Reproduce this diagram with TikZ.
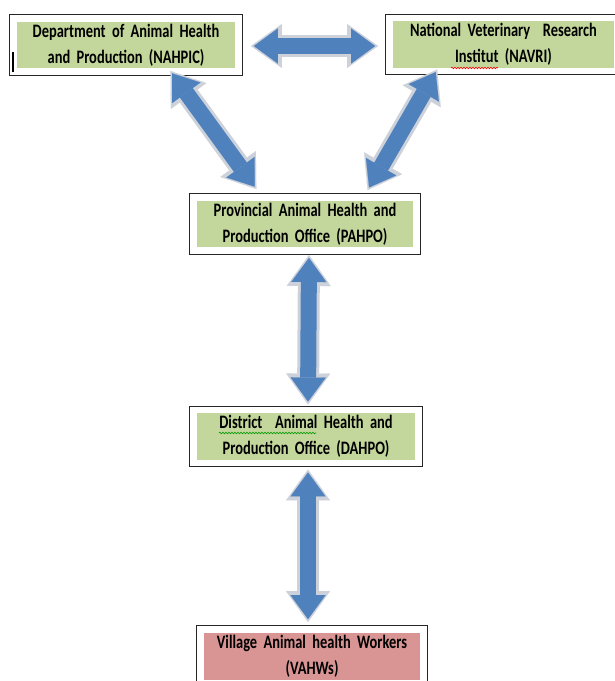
\documentclass[tikz,border=0pt]{standalone}
\usepackage{fontspec}
\setmainfont{Carlito}[FakeStretch=0.76]
\usepackage{tikz}
\usetikzlibrary{arrows.meta,calc,fit,decorations.pathmorphing}
\definecolor{ahgreen}{HTML}{C3D69B}
\definecolor{ahpink}{HTML}{D99594}
\definecolor{ahblue}{HTML}{4F81BD}
\definecolor{ahedge}{HTML}{CDD2DA}
\newcommand\orgfont{\fontsize{19}{26}\selectfont\bfseries
  \fontdimen2\font=2.8pt\relax\fontdimen3\font=0pt\relax\fontdimen4\font=0pt\relax}
\tikzset{
  orgbox/.style={fill=ahgreen,inner sep=2pt,minimum height=46pt,align=center,font=\orgfont},
  orgframe/.style={draw=black!85,line width=1.3pt,inner sep=7pt},
  link/.style={draw=ahblue,line width=16pt,
    {Triangle[length=24pt,width=35pt,line width=0.1pt]}-{Triangle[length=24pt,width=35pt,line width=0.1pt]},
    shorten <=3pt,shorten >=3pt,
    preaction={draw=ahedge,line width=22pt,shorten <=0pt,shorten >=0pt,
      {Triangle[length=31pt,width=44pt,line width=0.1pt]}-{Triangle[length=31pt,width=44pt,line width=0.1pt]}}},
  spell/.style={decorate,decoration={snake,segment length=3pt,amplitude=0.8pt},line width=0.6pt}
}

\begin{document}
\begin{tikzpicture}[x=1pt,y=-1pt]
  \useasboundingbox (0,0) rectangle (615,681);
  % offices
  \node[orgbox,minimum width=218pt,text width=214pt] (nahpic) at (126,45)
    {Department of Animal Health\\and Production (NAHPIC)};
  \node[orgbox,minimum width=221pt,text width=217pt] (navri) at (503.5,44.5)
    {National Veterinary\ \ Research\\Institut (NAVRI)};
  \node[orgbox,minimum width=216pt,text width=212pt] (pahpo) at (305,224)
    {Provincial Animal Health and\\Production Office (PAHPO)};
  \node[orgbox,minimum width=218pt,text width=214pt] (dahpo) at (306,436.5)
    {District\ \ Animal Health and\\Production Office (DAHPO)};
  \node[orgbox,fill=ahpink,minimum width=216pt,text width=212pt,minimum height=47pt] (vahws) at (312,656.5)
    {Village Animal health Workers\\(VAHWs)};
  % frames
  \node[orgframe,fit=(nahpic)] (nahpicbox) {};
  \node[orgframe,fit=(navri)] (navribox) {};
  \node[orgframe,fit=(pahpo)] (pahpobox) {};
  \node[orgframe,fit=(dahpo)] (dahpobox) {};
  \node[orgframe,fit=(vahws)] (vahwsbox) {};
  % links
  \draw[link] ($(nahpicbox.east)+(8,1)$) -- ($(navribox.west |- nahpicbox.east)+(-7,1)$);
  \draw[link] ($(nahpicbox.south west)!0.69!(nahpicbox.south east)+(0,-5)$)
    -- ($(pahpobox.north west)!0.29!(pahpobox.north east)+(0,-4)$);
  \draw[link] ($(navribox.south west)!0.22!(navribox.south east)+(0,-6)$)
    -- ($(pahpobox.north west)!0.77!(pahpobox.north east)+(0,-3)$);
  \draw[link] ($(pahpobox.south)+(4,0)$) -- ($(dahpobox.north)+(2,-1)$);
  \draw[link] ($(dahpobox.south)+(2,2)$) -- ($(vahwsbox.north)+(-4,-3)$);
  % marks
  \draw[line width=1.3pt] (13,52) -- (13,72);
  \draw[spell,red] (451,68) -- (498,68);
  \draw[spell,green!60!black] (219,433) -- (316,433);
\end{tikzpicture}
\end{document}
